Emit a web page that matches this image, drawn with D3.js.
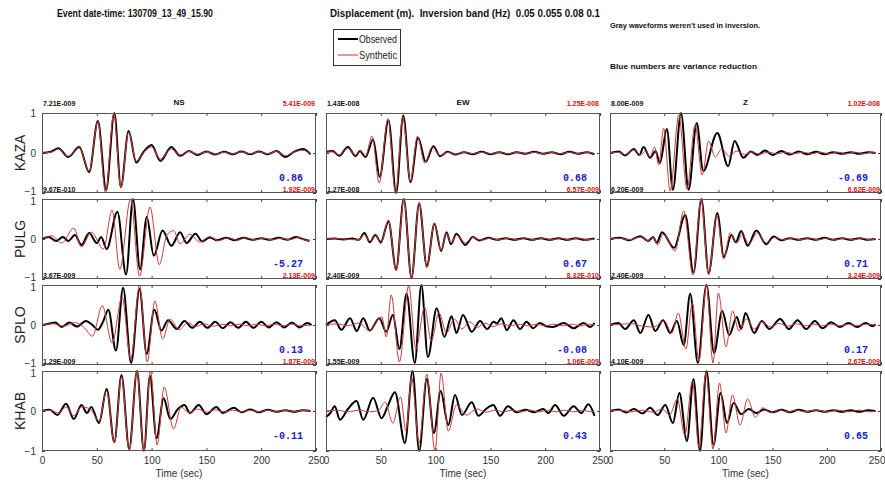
<!DOCTYPE html>
<html><head><meta charset="utf-8">
<script src="https://cdn.jsdelivr.net/npm/d3@7/dist/d3.min.js"></script>
<style>
body{margin:0;background:#fff;}
svg{display:block;}
</style></head>
<body>
<script>
// ---------------- data ----------------
const stations = ["KAZA","PULG","SPLO","KHAB"];
const components = ["NS","EW","Z"];
const timeTicks = [0,50,100,150,200,250];
const ampTicks = [-1,0,1];
const obsMaxLabels = [
  ["7.21E-009","1.43E-008","8.00E-009"],
  ["9.67E-010","1.27E-008","6.20E-009"],
  ["3.67E-009","2.40E-009","2.40E-009"],
  ["1.29E-009","1.55E-009","4.10E-009"]];
const synMaxLabels = [
  ["5.41E-009","1.25E-008","1.02E-008"],
  ["1.92E-009","6.57E-009","6.62E-009"],
  ["2.13E-009","8.32E-010","3.24E-009"],
  ["1.87E-009","1.06E-009","2.67E-009"]];
const varianceReduction = [
  ["0.86","0.68","-0.69"],
  ["-5.27","0.67","0.71"],
  ["0.13","-0.08","0.17"],
  ["-0.11","0.43","0.65"]];

// waveforms: [time (sec), normalized amplitude] read at the wiggle extrema
const kazaNSobs = [[0,0],[8,0.03],[15,0.12],[24,-0.1],[34,0.15],[43,-0.48],[51,0.8],[58.5,-0.92],[66,1.0],[72,-0.85],[79,0.55],[86,-0.24],[92,0.0],[100,0.2],[108,-0.2],[118,0.15],[126,-0.07],[134,0.05],[142,-0.05],[150,0.04],[158,-0.04],[166,0.03],[174,-0.03],[182,0.04],[190,-0.03],[198,0.04],[206,-0.03],[214,0.05],[222,-0.1],[230,0.03],[238,0.1],[245,-0.03]];
const kazaNSsyn = [[0,0],[8,0.02],[15,0.1],[24,-0.08],[34,0.13],[43,-0.45],[51,0.78],[58,-1.0],[65.5,0.98],[72,-0.88],[79,0.52],[86,-0.2],[93,0.02],[100,0.15],[108,-0.15],[118,0.1],[126,-0.05],[134,0.04],[142,-0.03],[150,0.03],[158,-0.03],[166,0.02],[174,-0.02],[182,0.03],[190,-0.02],[198,0.03],[206,-0.02],[214,0.04],[222,-0.07],[230,0.02],[238,0.07],[245,-0.02]];
const kazaEWobs = [[0,0.03],[6,0.05],[12,-0.07],[20,0.15],[27,-0.08],[31,0.05],[36,-0.1],[43,0.34],[49,-0.6],[57,0.82],[64,-1.0],[70.5,0.94],[77,-0.73],[84,0.38],[91,-0.22],[98,0.17],[104,-0.08],[111,0.03],[118,-0.04],[126,0.02],[134,-0.03],[142,0.03],[150,-0.03],[158,0.02],[166,-0.03],[174,0.02],[182,-0.02],[190,0.03],[198,-0.02],[206,0.02],[214,-0.03],[222,0.03],[230,-0.02],[238,0.02],[245,-0.03]];
const kazaEWsyn = [[0,0.02],[6,0.03],[12,-0.05],[20,0.12],[27,-0.05],[32,0.05],[36,-0.08],[42,0.42],[48.5,-0.75],[56.5,0.86],[63.5,-1.0],[70,0.9],[77,-0.7],[83.5,0.42],[90,-0.25],[97,0.15],[104,-0.06],[111,0.02],[118,-0.03],[126,0.02],[134,-0.02],[142,0.02],[150,-0.02],[158,0.02],[166,-0.02],[174,0.02],[182,-0.02],[190,0.02],[198,-0.02],[206,0.02],[214,-0.02],[222,0.02],[230,-0.02],[238,0.02],[245,-0.02]];
const kazaZobs = [[0,0],[8,0.04],[14,-0.06],[22,0.1],[27,-0.05],[31,0.15],[37,-0.12],[42,0.05],[46,-0.25],[52.5,0.6],[58,-0.92],[65.5,1.0],[72.5,-0.92],[80,0.75],[86,-0.45],[99,0.5],[109,-0.33],[115,0.3],[123,-0.12],[130,0.04],[136,-0.05],[143,0.06],[150,-0.05],[158,0.05],[166,-0.04],[174,0.04],[182,-0.03],[190,0.03],[198,-0.03],[206,0.02],[214,-0.02],[222,0.02],[230,-0.02],[238,0.02],[245,0]];
const kazaZsyn = [[0,0],[8,0.02],[14,-0.04],[22,0.08],[28,-0.05],[33,0.05],[37,-0.1],[41,0.15],[45,-0.3],[49.5,0.62],[55.5,-0.95],[63.5,0.95],[71,-0.9],[78.5,0.7],[85,-0.55],[91,0.3],[97,-0.1],[103,0.1],[110,-0.08],[117,0.05],[124,-0.04],[131,0.03],[138,-0.03],[146,0.02],[154,-0.02],[162,0.02],[170,-0.02],[178,0.02],[186,-0.02],[194,0.02],[202,-0.02],[210,0.02],[218,-0.02],[226,0.02],[234,-0.02],[242,0.02],[245,0]];

const pulgNSobs = [[0,0],[6,0.05],[13,-0.05],[19,0.05],[24,-0.05],[30,0.1],[36,-0.15],[43,0.15],[50,-0.1],[54,0.05],[59,-0.25],[68.8,0.68],[76.7,-0.89],[83,1.0],[89.5,-0.76],[95.6,0.55],[102,-0.42],[110,0.21],[118,-0.17],[126,0.17],[132,-0.1],[140,0.13],[146,-0.06],[153,0.04],[160,-0.03],[168,0.03],[176,-0.03],[184,0.03],[192,-0.02],[200,0.02],[208,-0.02],[216,0.03],[224,-0.02],[232,0.05],[240,-0.02],[244,-0.05]];
const pulgNSsyn = [[0,0],[9,0.08],[18,-0.1],[29,0.27],[36,-0.2],[45,0.17],[56,-0.25],[64,0.72],[71,-0.76],[80.8,1.0],[89,-0.93],[98.5,0.8],[107,-0.64],[114,0.1],[120,0.21],[126,-0.12],[135,0.12],[144,-0.08],[153,0.06],[161,-0.04],[170,0.03],[178,-0.03],[186,0.03],[194,-0.02],[202,0.02],[210,-0.02],[218,0.02],[226,-0.02],[234,0.04],[242,-0.04],[245,-0.02]];
const pulgEWobs = [[0,0],[8,0.01],[16,-0.01],[24,0.01],[30,-0.02],[35,0.15],[40,-0.08],[45,0.1],[50,-0.08],[57,0.44],[64,-0.76],[71,1.0],[78,-0.97],[85,0.89],[92,-0.68],[99,0.38],[105,-0.3],[110,0.17],[114,-0.13],[119,0.13],[127,-0.15],[134,0.05],[140,-0.04],[148,0.03],[156,-0.02],[164,0.02],[172,-0.02],[180,0.02],[188,-0.02],[196,0.02],[204,-0.02],[212,0.02],[220,-0.02],[228,0.02],[236,-0.02],[245,0.01]];
const pulgEWsyn = [[0,0],[10,0.01],[20,-0.01],[30,-0.02],[35,0.12],[40,-0.06],[45,0.12],[50,-0.12],[57,0.48],[64,-0.8],[71,0.98],[78,-1.0],[85,0.92],[92,-0.72],[99,0.4],[105,-0.28],[110,0.15],[114,-0.1],[119,0.1],[127,-0.1],[134,0.04],[142,-0.03],[150,0.02],[158,-0.02],[166,0.02],[174,-0.02],[182,0.02],[190,-0.02],[198,0.02],[206,-0.02],[214,0.02],[222,-0.02],[230,0.02],[238,-0.02],[245,0]];
const pulgZobs = [[0,0],[9,0.03],[18,-0.03],[28,0.07],[35,-0.05],[40,0.05],[43,-0.1],[48,0.17],[59,-0.22],[69.5,0.6],[77,-0.85],[84.3,1.0],[91,-0.85],[99,0.65],[105,-0.45],[112,0.1],[116,-0.08],[121,0.2],[127,-0.17],[135,0.21],[144,-0.13],[151,0.06],[158,-0.03],[166,0.02],[174,-0.02],[182,0.02],[190,-0.02],[198,0.03],[206,-0.02],[214,0.02],[222,-0.02],[230,0.02],[238,-0.02],[245,0]];
const pulgZsyn = [[0,0],[9,0.02],[18,-0.02],[28,0.05],[35,-0.04],[40,0.05],[44,-0.15],[49,0.12],[60,-0.3],[68,0.7],[76.5,-0.9],[84,1.0],[91,-0.9],[98.5,0.6],[105,-0.5],[111,0.15],[117,-0.1],[122,0.12],[128,-0.12],[136,0.15],[144,-0.1],[152,0.04],[160,-0.02],[168,0.02],[176,-0.02],[184,0.02],[192,-0.02],[200,0.02],[208,-0.02],[216,0.02],[224,-0.02],[232,0.02],[240,-0.02],[245,0]];

const sploNSobs = [[0,0],[6,0.03],[12,0.06],[18,-0.05],[25,0.06],[32,-0.04],[40,0.1],[46,0.0],[51,-0.12],[56,0.1],[60.5,0.38],[67.5,-0.64],[74,0.93],[81.3,-0.95],[89,0.9],[95.5,-0.72],[102.5,0.38],[109,-0.14],[115,0.12],[123,-0.1],[130,0.1],[137,-0.07],[144,0.08],[151,-0.07],[158,0.08],[165,-0.08],[172,0.07],[179,-0.07],[186,0.08],[193,-0.07],[200,0.08],[207,-0.06],[214,0.07],[221,-0.06],[228,0.06],[235,-0.06],[242,0.05],[246,0]];
const sploNSsyn = [[0,0],[10,0.03],[20,-0.03],[30,0.06],[38,-0.05],[46,-0.28],[55,0.48],[64,-0.45],[73,0.7],[81,-0.85],[89,1.0],[96,-0.92],[103,0.6],[110,-0.35],[117,0.15],[125,-0.12],[133,0.06],[140,-0.04],[148,0.03],[156,-0.03],[164,0.02],[172,-0.02],[180,0.02],[188,-0.02],[196,0.02],[204,-0.02],[212,0.02],[220,-0.02],[228,0.02],[236,-0.02],[245,0]];
const sploEWobs = [[0,0],[8,0.12],[14,-0.12],[22,0.17],[28,-0.15],[34,0.17],[40,-0.14],[48.6,0.17],[55,-0.17],[61,0.25],[67,-0.6],[73.5,0.78],[81,-0.95],[87,1.0],[93,-0.8],[101,0.42],[108,-0.3],[114.5,0.22],[119,-0.2],[125,0.25],[133,-0.17],[140.6,0.1],[147,-0.1],[153,0.08],[156,0.04],[160,0.17],[165,-0.13],[171,0.12],[177,-0.1],[183,0.08],[189,-0.08],[195,0.05],[201,-0.03],[207,-0.05],[217,0.05],[226,-0.08],[235,0.05],[241,-0.05],[245,0.05]];
const sploEWsyn = [[0,0],[10,0.03],[20,-0.02],[30,0.05],[40,-0.15],[46,0.1],[51,0.2],[55,-0.3],[59.5,0.75],[67,-0.92],[75.5,0.98],[82,-0.6],[90,0.45],[96,-0.4],[103,0.3],[110,-0.2],[117,0.15],[124,-0.1],[131,0.08],[138,-0.06],[145,0.05],[152,-0.04],[160,0.03],[168,-0.02],[176,0.02],[184,-0.02],[192,0.02],[200,-0.02],[208,0.02],[216,-0.02],[224,0.02],[232,-0.02],[240,0.02],[245,0]];
const sploZobs = [[0,0],[7.7,0.05],[14,-0.1],[22,0.12],[28,-0.2],[35.5,0.25],[41.7,-0.15],[49,0.12],[55.5,-0.2],[61.7,0.1],[68,-0.5],[74,0.78],[81,-0.95],[89,1.0],[96,-0.7],[103.5,0.35],[110,-0.25],[117,0.2],[121,-0.1],[125,0.3],[133,-0.2],[140,0.1],[147,-0.1],[157,0.15],[165,-0.1],[173,0.12],[181,-0.1],[189,0.1],[196,-0.08],[204,0.07],[212,-0.05],[220,0.05],[228,-0.05],[236,0.05],[242,-0.03],[245,0.02]];
const sploZsyn = [[0,0],[10,0.02],[20,0.03],[30,-0.03],[40,-0.05],[50,0.1],[57,-0.2],[63,0.3],[70,-0.6],[76,0.55],[82,-0.9],[89,1.0],[95,-0.95],[100,0.8],[107,-0.55],[113,0.35],[119,-0.15],[126,0.15],[133,-0.1],[140,0.08],[148,-0.05],[156,0.04],[164,-0.03],[172,0.03],[180,-0.02],[188,0.02],[196,-0.02],[204,0.02],[212,-0.02],[220,0.02],[228,-0.02],[236,0.02],[245,0]];

const khabNSobs = [[0,0],[7,0.03],[14,-0.1],[22,0.18],[29,-0.2],[36,0.15],[41,-0.05],[45,0.1],[52,-0.3],[59,0.55],[66,-0.78],[72.5,0.9],[79.6,-0.95],[86.7,1.0],[93,-1.0],[98.5,0.88],[104.5,-0.68],[111,0.32],[117,-0.2],[124,0.05],[130,0.15],[135,-0.05],[143,0.15],[150,-0.08],[159,0.1],[165,-0.05],[175,0.08],[182,-0.03],[190,0.04],[198,-0.03],[206,0.03],[214,-0.02],[222,0.02],[230,-0.02],[238,0.02],[245,0]];
const khabNSsyn = [[0,0],[8,0.02],[15,-0.05],[22,0.1],[29,-0.12],[36,0.1],[44,0.05],[52,-0.25],[59,0.5],[66,-0.8],[72.5,0.85],[79.6,-1.0],[86.5,0.98],[93,-1.0],[99,1.0],[105,-0.85],[111.5,0.6],[120,-0.45],[127,0.1],[134,-0.04],[142,0.05],[150,-0.03],[158,0.03],[166,-0.02],[174,0.02],[182,-0.02],[190,0.02],[198,-0.02],[206,0.02],[214,-0.02],[222,0.02],[230,-0.02],[238,0.02],[245,0]];
const khabEWobs = [[0,-0.15],[4,-0.05],[8,0.12],[12.7,-0.22],[20,0.05],[27.9,0.25],[34,-0.22],[43,0.33],[50.7,-0.18],[56,0.1],[62.9,0.47],[72,-0.8],[79,1.0],[85,-1.0],[92,0.8],[98.5,-0.55],[104.6,0.5],[111.6,-0.35],[117.7,0.4],[124,-0.1],[133,0.22],[139,-0.12],[146,0.05],[152.7,0.15],[158.8,-0.12],[166,0.12],[174,-0.03],[182,0.03],[190,-0.03],[198,0.05],[203,-0.05],[209,0.15],[217,-0.12],[226,0.12],[233,-0.05],[239.4,0.17],[245,-0.12]];
const khabEWsyn = [[0,0],[10,0.02],[20,-0.02],[30,0.02],[40,-0.02],[48,0.02],[54,0.22],[61,-0.3],[68,0.35],[73,-0.5],[78,0.85],[85,-0.8],[92,0.92],[99.5,-1.0],[105,0.95],[111.6,-0.5],[119,0.15],[128,-0.1],[137.7,0.05],[146,-0.03],[154,0.02],[162,-0.02],[170,0.02],[178,-0.02],[186,0.02],[194,-0.02],[202,0.02],[210,-0.02],[218,0.02],[226,-0.02],[234,0.02],[242,-0.02],[245,0]];
const khabZobs = [[0,0],[8,0.04],[15,-0.04],[22,0.05],[30,-0.06],[37,0.08],[44,-0.1],[51,0.15],[58,-0.3],[64,0.45],[71,-0.75],[77,0.8],[83,-1.0],[89,1.0],[95.5,-0.85],[102,0.45],[108,-0.3],[114,0.2],[121,-0.08],[128,0.05],[135,-0.05],[142,0.04],[150,-0.03],[158,0.03],[166,-0.03],[174,0.03],[182,-0.02],[190,0.02],[198,-0.02],[206,0.02],[214,-0.02],[222,0.02],[230,-0.02],[238,0.02],[245,0]];
const khabZsyn = [[0,0],[10,0.02],[20,-0.02],[30,0.02],[40,-0.03],[48,0.05],[55,-0.1],[62,0.3],[69,-0.6],[76,0.75],[82,-0.9],[88.5,0.95],[95,-0.95],[101,0.7],[107,-0.55],[113,0.4],[120,-0.35],[127,0.3],[134,-0.15],[141,0.08],[148,-0.04],[156,0.03],[164,-0.02],[172,0.02],[180,-0.02],[190,0.02],[200,-0.02],[210,0.02],[220,-0.02],[230,0.02],[240,-0.02],[245,0]];

const observed = [
  [kazaNSobs, kazaEWobs, kazaZobs],
  [pulgNSobs, pulgEWobs, pulgZobs],
  [sploNSobs, sploEWobs, sploZobs],
  [khabNSobs, khabEWobs, khabZobs]];
const synthetic = [
  [kazaNSsyn, kazaEWsyn, kazaZsyn],
  [pulgNSsyn, pulgEWsyn, pulgZsyn],
  [sploNSsyn, sploEWsyn, sploZsyn],
  [khabNSsyn, khabEWsyn, khabZsyn]];

// ---------------- layout ----------------
const W = 885, H = 483;
const colLeft = [42, 326, 610];
const colWidth = [274, 274, 271];
const rowTop = [113, 199, 285, 371];
const panelH = 80;
const sans = "'Liberation Sans',Arial,sans-serif";

const svg = d3.select("body").append("svg").attr("width", W).attr("height", H);

function header(x, yy, size, len, str) {
  svg.append("text").attr("x", x).attr("y", yy).attr("font-family", sans).attr("font-weight", "bold")
    .attr("font-size", size).attr("textLength", len).attr("lengthAdjust", "spacingAndGlyphs")
    .attr("fill", "#111").text(str);
}
header(57, 17, 10, 156, "Event date-time: 130709_13_49_15.90");
header(330, 17, 10, 270, "Displacement (m).\u00a0 Inversion band (Hz)\u00a0 0.05 0.055 0.08 0.1");
header(610, 28, 8, 150, "Gray waveforms weren't used in inversion.");
header(610, 69, 8, 147, "Blue numbers are variance reduction");

// legend
const leg = svg.append("g");
leg.append("rect").attr("x", 333.5).attr("y", 29.5).attr("width", 67).attr("height", 36)
  .attr("fill", "#fff").attr("stroke", "#333").attr("stroke-width", 1);
leg.append("line").attr("x1", 338).attr("x2", 358).attr("y1", 39).attr("y2", 39).attr("stroke", "#000").attr("stroke-width", 2);
leg.append("line").attr("x1", 338).attr("x2", 358).attr("y1", 55).attr("y2", 55).attr("stroke", "#cc3333").attr("stroke-width", 1);
leg.append("text").attr("x", 359).attr("y", 43).attr("font-family", sans).attr("font-size", 11)
  .attr("textLength", 38).attr("lengthAdjust", "spacingAndGlyphs").attr("fill", "#222").text("Observed");
leg.append("text").attr("x", 359).attr("y", 59).attr("font-family", sans).attr("font-size", 11)
  .attr("textLength", 38).attr("lengthAdjust", "spacingAndGlyphs").attr("fill", "#222").text("Synthetic");

stations.forEach((st, r) => {
  const top = rowTop[r];
  const yr = d3.scaleLinear().domain([-1, 1]).range([top + panelH, top]);
  svg.append("text").attr("transform", `translate(25,${top + panelH / 2}) rotate(-90)`)
    .attr("text-anchor", "middle").attr("font-family", sans).attr("font-size", 14).attr("fill", "#222").text(st);

  components.forEach((comp, c) => {
    const left = colLeft[c], w = colWidth[c];
    const x = d3.scaleLinear().domain([0, 250]).range([left, left + w]);
    const g = svg.append("g");

    g.append("g").attr("transform", `translate(0,${top + panelH})`)
      .call(d3.axisBottom(x).tickValues(timeTicks).tickSizeInner(-3).tickSizeOuter(0).tickFormat(r === 3 ? d3.format("d") : ""))
      .call(a => a.select(".domain").remove())
      .call(a => a.selectAll("line").attr("stroke", "#444"))
      .call(a => a.selectAll("text").attr("font-family", sans).attr("font-size", 10).attr("fill", "#333").attr("dy", "0.95em"))
      .call(a => { if (c === 2) a.selectAll("text").filter(d => d === 250).attr("text-anchor", "end").attr("dx", 4); });
    g.append("g").attr("transform", `translate(0,${top})`)
      .call(d3.axisTop(x).tickValues(timeTicks).tickSizeInner(-3).tickSizeOuter(0).tickFormat(""))
      .call(a => a.select(".domain").remove())
      .call(a => a.selectAll("line").attr("stroke", "#444"));
    g.append("g").attr("transform", `translate(${left},0)`)
      .call(d3.axisLeft(yr).tickValues(ampTicks).tickSizeInner(-3).tickSizeOuter(0).tickFormat(c === 0 ? d3.format("d") : ""))
      .call(a => a.select(".domain").remove())
      .call(a => a.selectAll("line").attr("stroke", "#444"))
      .call(a => a.selectAll("text").attr("font-family", sans).attr("font-size", 10).attr("fill", "#333").attr("x", -6))
      .call(a => a.selectAll("text").filter(d => d === 1 && r > 0).attr("dy", "0.55em"))
      .call(a => a.selectAll("text").filter(d => d === -1 && r < 3).attr("dy", "0.1em"));
    g.append("g").attr("transform", `translate(${left + w},0)`)
      .call(d3.axisRight(yr).tickValues(ampTicks).tickSizeInner(-3).tickSizeOuter(0).tickFormat(""))
      .call(a => a.select(".domain").remove())
      .call(a => a.selectAll("line").attr("stroke", "#444"));

    const line = d3.line().x(d => x(d[0])).y(d => yr(d[1])).curve(d3.curveMonotoneX);
    g.append("path").attr("d", line(observed[r][c])).attr("fill", "none").attr("stroke", "#000").attr("stroke-width", 2);
    g.append("path").attr("d", line(synthetic[r][c])).attr("fill", "none").attr("stroke", "#d03a3a").attr("stroke-width", 1);

    g.append("rect").attr("x", left + 0.5).attr("y", top + 0.5).attr("width", w - 1).attr("height", panelH - 1)
      .attr("fill", "none").attr("stroke", "#555").attr("stroke-width", 1);

    svg.append("text").attr("x", left + 1).attr("y", top - 7).attr("font-family", sans).attr("font-weight", "bold")
      .attr("font-size", 7).attr("fill", "#111").text(obsMaxLabels[r][c]);
    svg.append("text").attr("x", left + w - 1).attr("y", top - 7).attr("text-anchor", "end").attr("font-family", sans)
      .attr("font-weight", "bold").attr("font-size", 7).attr("fill", "#e01010").text(synMaxLabels[r][c]);
    if (r === 0) {
      svg.append("text").attr("x", left + w / 2).attr("y", top - 8).attr("text-anchor", "middle").attr("font-family", sans)
        .attr("font-weight", "bold").attr("font-size", 8).attr("fill", "#111").text(comp);
    }
    svg.append("text").attr("x", left + w - 13).attr("y", top + 68).attr("text-anchor", "end")
      .attr("font-family", "'Liberation Mono','DejaVu Sans Mono',monospace").attr("font-weight", "bold")
      .attr("font-size", 10).attr("fill", "#2020d0").text(varianceReduction[r][c]);

    if (r === 3) {
      svg.append("text").attr("x", left + w / 2).attr("y", 477).attr("text-anchor", "middle")
        .attr("font-family", sans).attr("font-size", 10).attr("fill", "#333").text("Time (sec)");
    }
  });
});
</script>
</body></html>
